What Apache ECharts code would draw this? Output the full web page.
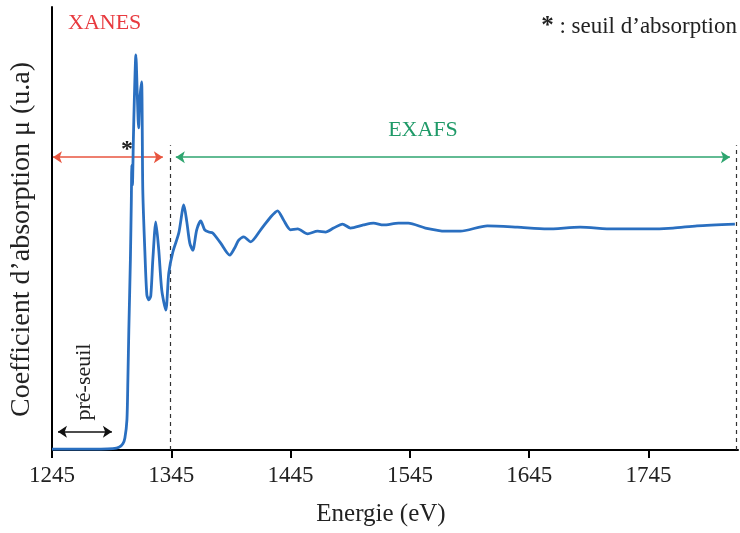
<!DOCTYPE html>
<html>
<head>
<meta charset="utf-8">
<title>Spectre d'absorption XANES / EXAFS</title>
<script src="https://cdn.jsdelivr.net/npm/echarts@6.0.0/dist/echarts.min.js"></script>
<style>
    html, body { margin: 0; padding: 0; background: #fff; }
    #main { width: 740px; height: 533px; }
</style>
</head>
<body>
<div id="main"></div>
<script>
// énergie (eV)
var energie = [1245, 1269.3, 1286, 1296, 1301.1, 1304.4, 1306.1, 1307.8, 1308.6, 1309.4,
    1310.7, 1311.5, 1311.9, 1312.4, 1313.2, 1314, 1315.3, 1316.5, 1317.6, 1318.6,
    1320.1, 1321.1, 1322.8, 1324.5, 1326.2, 1327.8, 1329.5, 1332, 1334.5, 1337,
    1340.4, 1342.9, 1346.3, 1351.3, 1355.5, 1358, 1360.5, 1363, 1366.3, 1369.7,
    1373, 1376.4, 1379.7, 1386.4, 1394, 1398.1, 1401.5, 1405.7, 1411.5, 1419.9,
    1428.3, 1434.1, 1439.1, 1445, 1450.9, 1459.2, 1467.6, 1474.3, 1481, 1488.5,
    1495.2, 1506.1, 1514.5, 1522.8, 1535.4, 1543.7, 1558, 1574.7, 1587.3, 1609.9,
    1635, 1660.1, 1687.7, 1715.3, 1743.7, 1765.5, 1785.6, 1817.4];
// coefficient d'absorption (u.a, 0-100)
var absorption = [0.2, 0.2, 0.2, 0.3, 0.6, 1.4, 2.7, 6.8, 15.8, 27.1,
    42.9, 56.4, 64.3, 59.8, 70.0, 79.0, 89.2, 80.1, 72.7, 79.0,
    83.1, 58.7, 45.1, 35.0, 33.9, 34.8, 42.9, 51.5, 45.1, 36.1,
    31.6, 40.0, 44.7, 49.0, 55.3, 51.5, 46.7, 45.1, 49.7, 51.7,
    49.7, 49.2, 49.0, 46.7, 44.0, 45.6, 47.4, 48.1, 47.0, 49.7,
    52.6, 54.0, 51.9, 49.7, 49.9, 48.8, 49.4, 49.2, 50.1, 51.0,
    50.1, 50.8, 51.2, 50.8, 51.2, 51.2, 50.1, 49.4, 49.4, 50.6,
    50.3, 49.9, 50.3, 49.9, 49.9, 50.1, 50.6, 51.0];
var tickLabels = [1245, 1345, 1445, 1545, 1645, 1745];

// zones
var xanes = [1245.8, 1337.9];
var exafs = [1348.8, 1813.2];
var niveauFleches = 66.1;
var seuils = [1343.7, 1818.2];
var hautSeuils = 68.8;
var preSeuil = [1250, 1295.2];
var niveauPreSeuil = 4.1;

var serif = "'Liberation Serif', 'DejaVu Serif', serif";

var points = [];
for (var i = 0; i < energie.length; i++) {
    points.push([energie[i], absorption[i]]);
}

function fleche(r, y, couleur) {
    return {
        name: '', type: 'line', data: [], silent: true,
        markLine: {
            silent: true, animation: false,
            symbol: ['arrow', 'arrow'], symbolSize: [9, 9],
            label: { show: false },
            lineStyle: { color: couleur, width: 1.5, type: 'solid' },
            data: [[{ coord: [r[0], y] }, { coord: [r[1], y] }]]
        }
    };
}

var myChart = echarts.init(document.getElementById('main'));

var option = {
    backgroundColor: '#fff',
    animation: false,
    grid: { left: 51, right: 2, top: 7, bottom: 83 },
    xAxis: {
        type: 'value',
        min: 1245,
        max: 1820,
        name: 'Energie (eV)',
        nameLocation: 'middle',
        nameGap: 52,
        nameTextStyle: { fontFamily: serif, fontSize: 25, color: '#222', padding: [0, 28, 0, 0] },
        axisLine: { lineStyle: { color: '#000', width: 2 } },
        axisTick: { show: true, length: 8, customValues: tickLabels, lineStyle: { color: '#000', width: 2 } },
        axisLabel: {
            customValues: tickLabels, margin: 14, fontFamily: serif, fontSize: 23, color: '#222',
            formatter: function (v) { return String(v); }
        },
        splitLine: { show: false }
    },
    yAxis: {
        type: 'value',
        min: 0,
        max: 100,
        name: 'Coefficient d\u2019absorption \u03bc (u.a)',
        nameLocation: 'middle',
        nameGap: 16,
        nameTextStyle: { fontFamily: serif, fontSize: 28, color: '#222', padding: [0, 22, 0, 0] },
        axisLine: { show: true, lineStyle: { color: '#000', width: 2 } },
        axisTick: { show: false },
        axisLabel: { show: false },
        splitLine: { show: false }
    },
    series: [
        {
            name: 'absorption',
            type: 'line',
            data: points,
            showSymbol: false,
            smooth: 0.25,
            lineStyle: { color: '#2a6fc0', width: 2.8 },
            z: 5
        },
        fleche(xanes, niveauFleches, '#e8553f'),
        fleche(exafs, niveauFleches, '#2ea56f'),
        fleche(preSeuil, niveauPreSeuil, '#111'),
        {
            name: '', type: 'line', data: [], silent: true,
            markLine: {
                silent: true, animation: false, symbol: 'none',
                label: { show: false },
                lineStyle: { color: '#333', width: 1.2, type: [4, 4] },
                data: seuils.map(function (s) {
                    return [{ coord: [s, 0] }, { coord: [s, hautSeuils] }];
                })
            }
        }
    ],
    graphic: [
        { type: 'text', left: 68, top: 12, style: { text: 'XANES', font: '22px ' + serif, fill: '#e83a3f' } },
        { type: 'text', x: 423, y: 130, style: { text: 'EXAFS', font: '22px ' + serif, fill: '#1f9a68', align: 'center', verticalAlign: 'middle' } },
        { type: 'text', x: 127, y: 150, style: { text: '*', font: 'bold 24px ' + serif, fill: '#222', align: 'center', verticalAlign: 'middle' } },
        {
            type: 'text', x: 737, y: 27,
            style: {
                text: '{s|*} : seuil d\u2019absorption',
                align: 'right', verticalAlign: 'middle',
                font: '23px ' + serif, fill: '#222',
                rich: { s: { font: 'bold 25px ' + serif, fill: '#222' } }
            }
        },
        { type: 'text', x: 84, y: 382, rotation: Math.PI / 2, style: { text: 'pr\u00e9-seuil', font: '22px ' + serif, fill: '#222', align: 'center', verticalAlign: 'middle' } }
    ]
};

myChart.setOption(option);
window.addEventListener('resize', function () {
    myChart.resize();
});
</script>
</body>
</html>
